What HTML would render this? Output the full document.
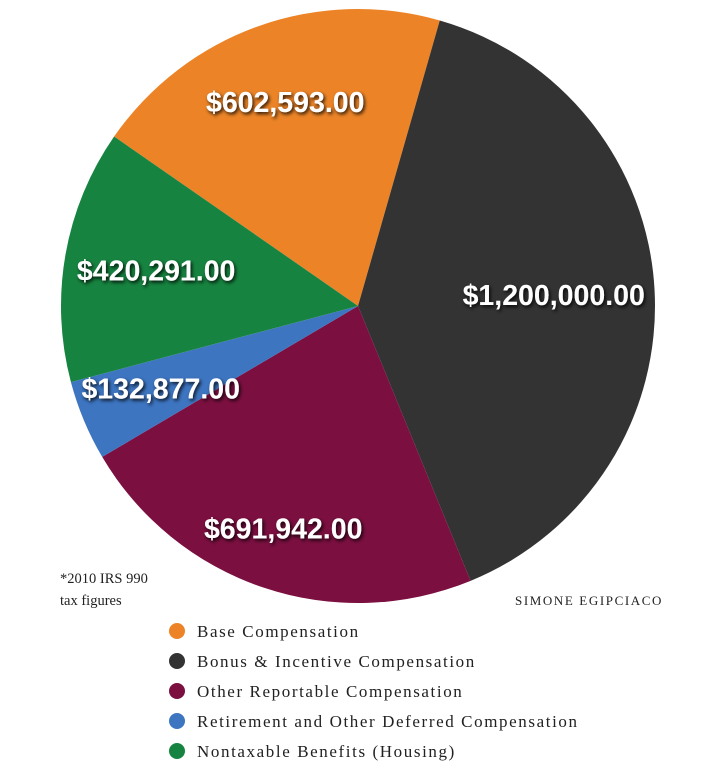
<!DOCTYPE html>
<html><head><meta charset="utf-8"><style>
body{margin:0;background:#fff;width:725px;height:782px;overflow:hidden}
svg{display:block}
.lbl{font-family:"Liberation Sans",sans-serif;font-weight:bold;font-size:28.5px;fill:#fff}
.leg{font-family:"Liberation Serif",serif;font-size:17px;letter-spacing:1.6px;fill:#222}
.note{font-family:"Liberation Serif",serif;font-size:14.5px;fill:#222}
</style></head><body>
<svg id="c" width="725" height="782">
<defs><filter id="sh" x="-20%" y="-40%" width="140%" height="180%"><feDropShadow dx="1.5" dy="2" stdDeviation="1.8" flood-color="#000" flood-opacity="0.85"/></filter></defs>
<g id="slices"></g><g id="labels"></g><g id="legend"></g>
<text class="note" x="60" y="583">*2010 IRS 990</text>
<text class="note" x="60" y="605">tax figures</text>
<text class="note" x="515" y="605" style="font-size:13px;letter-spacing:1.6px">SIMONE EGIPCIACO</text>
</svg>
<script>
const categories=["Base Compensation","Bonus & Incentive Compensation","Other Reportable Compensation","Retirement and Other Deferred Compensation","Nontaxable Benefits (Housing)"];
const values=[602593,1200000,691942,132877,420291];
const valueLabels=["$602,593.00","$1,200,000.00","$691,942.00","$132,877.00","$420,291.00"];
const colors=["#ec8427","#333333","#7b0f40","#3d75c1","#168440"];
const labelRadiusFactor=[0.73,0.66,0.79,0.72,0.69];
const NS="http://www.w3.org/2000/svg";
const cx=358,cy=306,r=297,startDeg=-55.2;
const total=values.reduce((a,b)=>a+b,0);
const sg=document.getElementById('slices'),lg=document.getElementById('labels'),leg=document.getElementById('legend');
function pt(deg,rad){const a=deg*Math.PI/180;return[cx+rad*Math.sin(a),cy-rad*Math.cos(a)];}
let acc=startDeg;
values.forEach((v,i)=>{
 const sweep=v/total*360,a0=acc,a1=acc+sweep;acc=a1;
 const p0=pt(a0,r),p1=pt(a1,r);
 const p=document.createElementNS(NS,'path');
 p.setAttribute('d',`M${cx},${cy}L${p0[0]},${p0[1]}A${r},${r} 0 ${sweep>180?1:0} 1 ${p1[0]},${p1[1]}Z`);
 p.setAttribute('fill',colors[i]);
 
 
 sg.appendChild(p);
 const m=pt((a0+a1)/2,r*labelRadiusFactor[i]);
 const t=document.createElementNS(NS,'text');
 t.setAttribute('x',m[0]);t.setAttribute('y',m[1]+10);
 t.setAttribute('text-anchor','middle');t.setAttribute('class','lbl');t.setAttribute('filter','url(#sh)');
 t.textContent=valueLabels[i];
 
 
 lg.appendChild(t);
 const y=631+i*30;
 const c=document.createElementNS(NS,'circle');
 c.setAttribute('cx',177);c.setAttribute('cy',y);c.setAttribute('r',8);c.setAttribute('fill',colors[i]);
 
 
 leg.appendChild(c);
 const lt=document.createElementNS(NS,'text');
 lt.setAttribute('x',197);lt.setAttribute('y',y+6);lt.setAttribute('class','leg');
 lt.textContent=categories[i];
 
 
 leg.appendChild(lt);
});
</script>
</body></html>
